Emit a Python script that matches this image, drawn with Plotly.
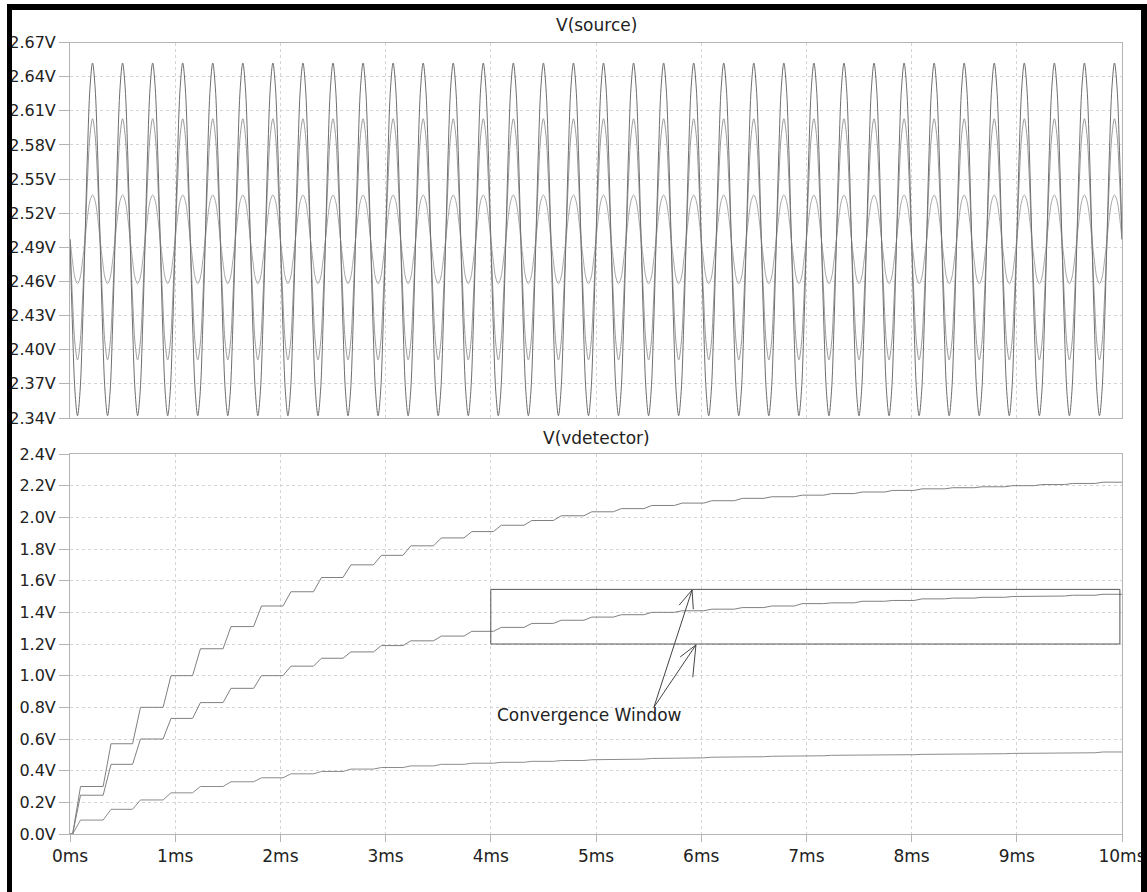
import plotly.graph_objects as go

# ---------------- data ----------------
# V(source): one cycle (12 samples, 30 deg apart) of each waveform, repeated for 35 cycles over 0..10 ms
n_cycles = 35
src_cycle_large = [2.497, 2.420, 2.363, 2.342, 2.363, 2.420, 2.497, 2.575, 2.631, 2.652, 2.631, 2.575]
src_cycle_mid = [2.497, 2.444, 2.405, 2.391, 2.405, 2.444, 2.497, 2.550, 2.589, 2.603, 2.589, 2.550]
src_cycle_small = [2.497, 2.478, 2.463, 2.458, 2.463, 2.478, 2.497, 2.517, 2.531, 2.536, 2.531, 2.517]

# V(vdetector): charge steps (times in ms, level after each step in V)
step_times = [0.07, 0.36, 0.64, 0.93, 1.21, 1.50, 1.79, 2.07, 2.36, 2.64, 2.93, 3.21,
              3.50, 3.79, 4.07, 4.36, 4.64, 4.93, 5.21, 5.50, 5.79, 6.07, 6.36, 6.64,
              6.93, 7.21, 7.50, 7.79, 8.07, 8.36, 8.64, 8.93, 9.21, 9.50, 9.79]
det_high = [0.30, 0.57, 0.80, 1.00, 1.17, 1.31, 1.44, 1.53, 1.62, 1.70, 1.76, 1.82,
            1.87, 1.91, 1.95, 1.98, 2.01, 2.035, 2.055, 2.075, 2.09, 2.105, 2.12, 2.13,
            2.14, 2.15, 2.16, 2.17, 2.18, 2.187, 2.193, 2.20, 2.207, 2.214, 2.222]
det_mid = [0.245, 0.44, 0.60, 0.73, 0.83, 0.92, 1.00, 1.06, 1.11, 1.15, 1.19, 1.22,
           1.25, 1.28, 1.305, 1.33, 1.35, 1.37, 1.385, 1.40, 1.41, 1.42, 1.43, 1.44,
           1.455, 1.46, 1.47, 1.475, 1.485, 1.49, 1.495, 1.50, 1.503, 1.508, 1.514]
det_low = [0.088, 0.156, 0.215, 0.26, 0.30, 0.33, 0.355, 0.38, 0.395, 0.41, 0.42, 0.43,
           0.44, 0.447, 0.453, 0.459, 0.464, 0.469, 0.473, 0.477, 0.481, 0.485, 0.488, 0.491,
           0.494, 0.497, 0.499, 0.501, 0.503, 0.505, 0.507, 0.509, 0.511, 0.513, 0.518]

top_ticks = [2.34, 2.37, 2.40, 2.43, 2.46, 2.49, 2.52, 2.55, 2.58, 2.61, 2.64, 2.67]
top_labels = ["2.34V", "2.37V", "2.40V", "2.43V", "2.46V", "2.49V", "2.52V", "2.55V",
              "2.58V", "2.61V", "2.64V", "2.67V"]
bot_ticks = [0.0, 0.2, 0.4, 0.6, 0.8, 1.0, 1.2, 1.4, 1.6, 1.8, 2.0, 2.2, 2.4]
bot_labels = ["0.0V", "0.2V", "0.4V", "0.6V", "0.8V", "1.0V", "1.2V", "1.4V", "1.6V",
              "1.8V", "2.0V", "2.2V", "2.4V"]
x_ticks = [0, 1, 2, 3, 4, 5, 6, 7, 8, 9, 10]
x_labels = ["0ms", "1ms", "2ms", "3ms", "4ms", "5ms", "6ms", "7ms", "8ms", "9ms", "10ms"]

window_t = [4.0, 9.98]
window_v = [1.2, 1.545]

# ---------------- build traces ----------------
spc = len(src_cycle_large)
n_pts = n_cycles * spc + 1
t_src = [10.0 * i / (n_pts - 1) for i in range(n_pts)]


def tile(cycle):
    return (cycle * n_cycles) + [cycle[0]]


def staircase(levels):
    xs, ys = [0.0], [0.0]
    prev = 0.0
    for t, lv in zip(step_times, levels):
        xs += [max(t - 0.045, 0.0), t + 0.03]
        ys += [prev, lv]
        prev = lv
    xs.append(10.0)
    ys.append(prev)
    return xs, ys


W, H = 1147, 892
FONT = "DejaVu Sans"

fig = go.Figure()
for cyc, col in [(src_cycle_small, "#a8a8a8"), (src_cycle_mid, "#9a9a9a"), (src_cycle_large, "#6e6e6e")]:
    fig.add_trace(go.Scatter(x=t_src, y=tile(cyc), mode="lines", xaxis="x", yaxis="y",
                             line=dict(color=col, width=1, shape="spline", smoothing=1.0),
                             showlegend=False, hoverinfo="skip"))
for lv, col in [(det_low, "#8c8c8c"), (det_mid, "#808080"), (det_high, "#808080")]:
    xs, ys = staircase(lv)
    fig.add_trace(go.Scatter(x=xs, y=ys, mode="lines", xaxis="x2", yaxis="y2",
                             line=dict(color=col, width=1),
                             showlegend=False, hoverinfo="skip"))

xdom = [70 / W, 1122 / W]
axis_common = dict(showline=True, linecolor="#b4b4b4", linewidth=1, mirror=True,
                   showgrid=True, gridcolor="#d4d4d4", griddash="3px,3px", gridwidth=1,
                   zeroline=False, automargin=False,
                   tickfont=dict(family=FONT, size=16, color="#222222"))

fig.update_layout(
    width=W, height=H, margin=dict(l=0, r=0, t=0, b=0, autoexpand=False),
    paper_bgcolor="white", plot_bgcolor="white",
    xaxis=dict(domain=xdom, range=[0, 10], anchor="y", tickvals=x_ticks,
               showticklabels=False, ticks="", **axis_common),
    yaxis=dict(domain=[1 - 418 / H, 1 - 42.5 / H], range=[2.34, 2.67], anchor="x",
               tickvals=top_ticks, ticktext=top_labels, ticks="outside", ticklen=10,
               tickcolor="#b4b4b4", **axis_common),
    xaxis2=dict(domain=xdom, range=[0, 10], anchor="y2", tickvals=x_ticks, ticktext=x_labels,
                ticks="outside", ticklen=7, tickcolor="#b4b4b4", **axis_common),
    yaxis2=dict(domain=[1 - 834 / H, 1 - 454 / H], range=[0, 2.4], anchor="x2",
                tickvals=bot_ticks, ticktext=bot_labels, ticks="outside", ticklen=10,
                tickcolor="#b4b4b4", **axis_common),
)
fig.update_xaxes(tickfont=dict(size=17))

# panel titles
fig.add_annotation(text="V(source)", xref="paper", yref="paper", x=596 / W, y=1 - 25 / H,
                   showarrow=False, font=dict(family=FONT, size=17, color="#222222"),
                   xanchor="center", yanchor="middle")
fig.add_annotation(text="V(vdetector)", xref="paper", yref="paper", x=596 / W, y=1 - 438 / H,
                   showarrow=False, font=dict(family=FONT, size=17, color="#222222"),
                   xanchor="center", yanchor="middle")

# convergence window
fig.add_shape(type="rect", xref="x2", yref="y2", x0=window_t[0], x1=window_t[1],
              y0=window_v[0], y1=window_v[1], line=dict(color="#555555", width=1))
fig.add_annotation(text="Convergence Window", xref="x2", yref="y2", x=4.04, y=0.752,
                   showarrow=False, font=dict(family=FONT, size=17, color="#222222"),
                   xanchor="left", yanchor="middle")
arrow_paths = [
    "M 5.55 0.80 L 5.913 1.541 M 5.79 1.445 L 5.913 1.541 L 5.925 1.42",
    "M 5.55 0.80 L 5.95 1.194 M 5.80 1.118 L 5.95 1.194 L 5.92 0.99",
]
for p in arrow_paths:
    fig.add_shape(type="path", xref="x2", yref="y2", path=p,
                  line=dict(color="#444444", width=1))

# black frame around the picture
for x0, x1, y0, y1 in [(7, 12, 4, H), (7, W, 4, 10), (1141, W, 4, H)]:
    fig.add_shape(type="rect", xref="paper", yref="paper", x0=x0 / W, x1=x1 / W,
                  y0=1 - y1 / H, y1=1 - y0 / H, fillcolor="black", line=dict(width=0),
                  layer="above")

fig.write_html("out.html", config={"displayModeBar": False},
               post_script="document.body.style.margin='0';")
